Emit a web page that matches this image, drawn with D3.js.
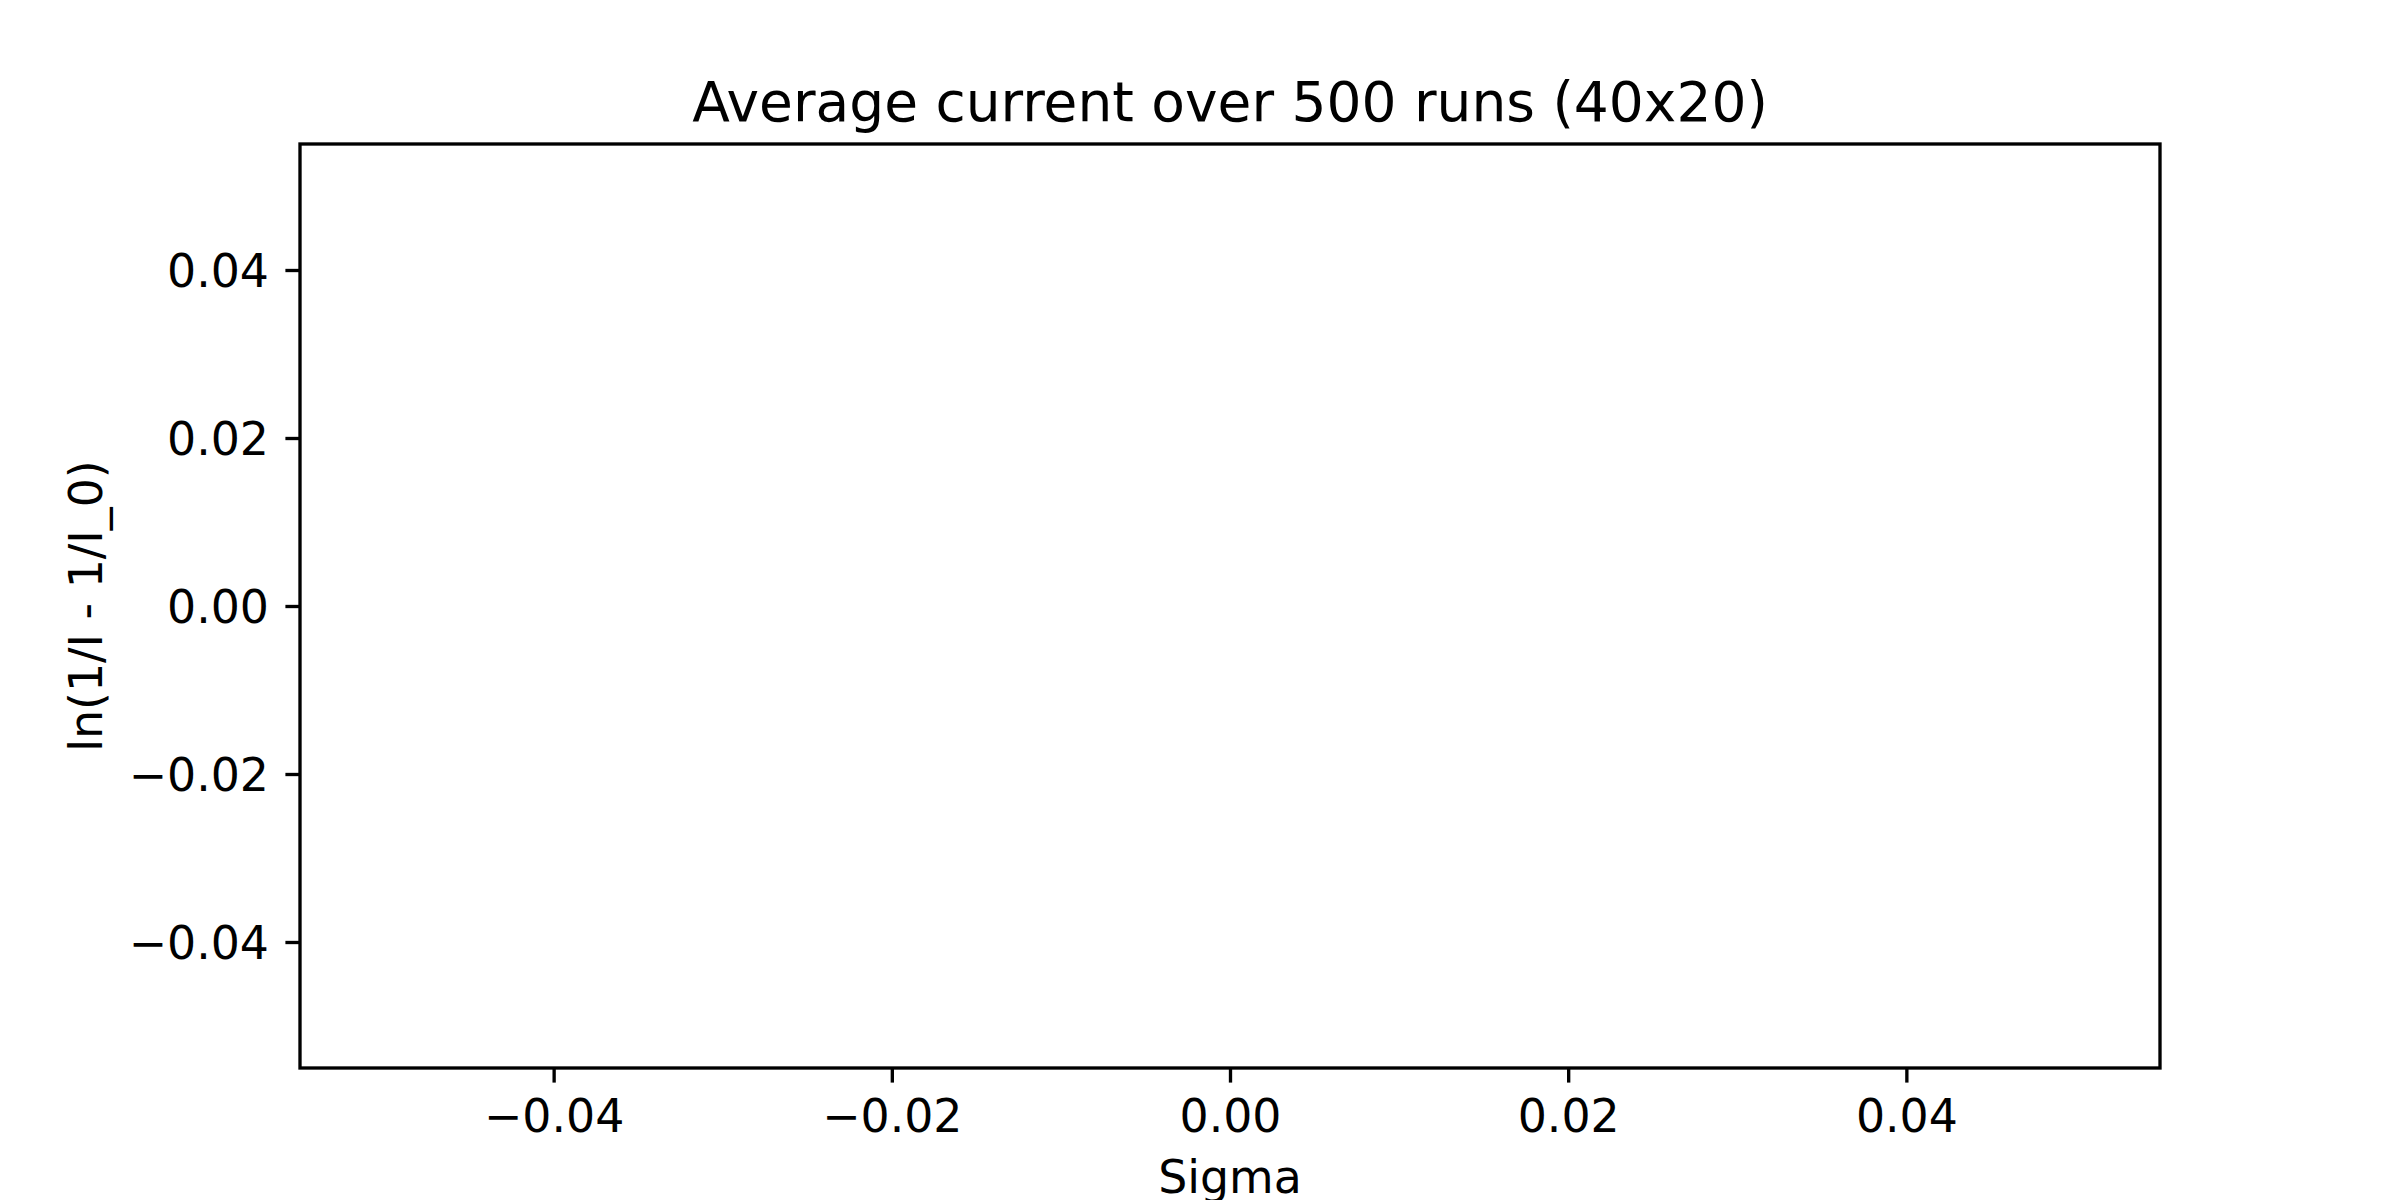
<!DOCTYPE html>
<html>
<head>
<meta charset="utf-8">
<script src="https://cdn.jsdelivr.net/npm/d3@7"></script>
<style>
  body { margin: 0; background: #fff; }
  text { font-family: "DejaVu Sans", sans-serif; fill: #000; }
</style>
</head>
<body>
<div class="chart"></div>
<script>
// data (the run produced no points, only the empty axes)
const sigma = [];
const lnValues = [];
const xDomain = [-0.055, 0.055];
const yDomain = [-0.055, 0.055];
const xTicks = [-0.04, -0.02, 0, 0.02, 0.04];
const yTicks = [-0.04, -0.02, 0, 0.02, 0.04];

const W = 2400, H = 1200;
const margin = ({top: 144, right: 240, bottom: 132, left: 300});
const width = W - margin.left - margin.right;
const height = H - margin.top - margin.bottom;
const lw = 3.33, tickLen = 14.6, fs = 45.8;

const svg = d3.select('.chart')
  .append('svg')
  .attr("width", W)
  .attr("height", H)
  .append("g")
  .attr("transform", `translate(${margin.left},${margin.top})`);

const xScale = d3.scaleLinear().domain(xDomain).range([0, width]);
const yScale = d3.scaleLinear().domain(yDomain).range([height, 0]);

const fmt = d3.format(".2f");

const xAxis = svg.append("g")
  .attr("transform", `translate(0,${height})`)
  .call(d3.axisBottom(xScale).tickValues(xTicks).tickFormat(fmt).tickSize(tickLen));
xAxis.select(".domain").remove();
xAxis.selectAll("line").attr("stroke", "#000").attr("stroke-width", lw);
xAxis.selectAll("text")
  .attr("y", 64).attr("dy", null)
  .attr("font-size", fs).attr("font-family", "DejaVu Sans").attr("fill", "#000");

const yAxis = svg.append("g")
  .call(d3.axisLeft(yScale).tickValues(yTicks).tickFormat(fmt).tickSize(tickLen));
yAxis.select(".domain").remove();
yAxis.selectAll("line").attr("stroke", "#000").attr("stroke-width", lw);
yAxis.selectAll("text")
  .attr("x", -31).attr("dy", "0.365em")
  .attr("font-size", fs).attr("font-family", "DejaVu Sans").attr("fill", "#000");

// series line (empty)
const line = d3.line().x(d => xScale(d[0])).y(d => yScale(d[1]));
svg.append("path")
  .datum(d3.zip(sigma, lnValues))
  .attr("fill", "none")
  .attr("stroke", "#1f77b4")
  .attr("stroke-width", 6.25)
  .attr("d", line);

// frame
svg.append("rect")
  .attr("width", width)
  .attr("height", height)
  .attr("fill", "none")
  .attr("stroke", "#000")
  .attr("stroke-width", lw);

// title & labels
svg.append("text")
  .attr("x", width / 2)
  .attr("y", -23.5)
  .attr("text-anchor", "middle")
  .attr("font-size", 55)
  .text("Average current over 500 runs (40x20)");

svg.append("text")
  .attr("x", width / 2)
  .attr("y", height + 125)
  .attr("text-anchor", "middle")
  .attr("font-size", fs)
  .text("Sigma");

svg.append("text")
  .attr("transform", `translate(${102 - margin.left},${height / 2}) rotate(-90)`)
  .attr("text-anchor", "middle")
  .attr("font-size", fs)
  .text("ln(1/I - 1/I_0)");
</script>
</body>
</html>
